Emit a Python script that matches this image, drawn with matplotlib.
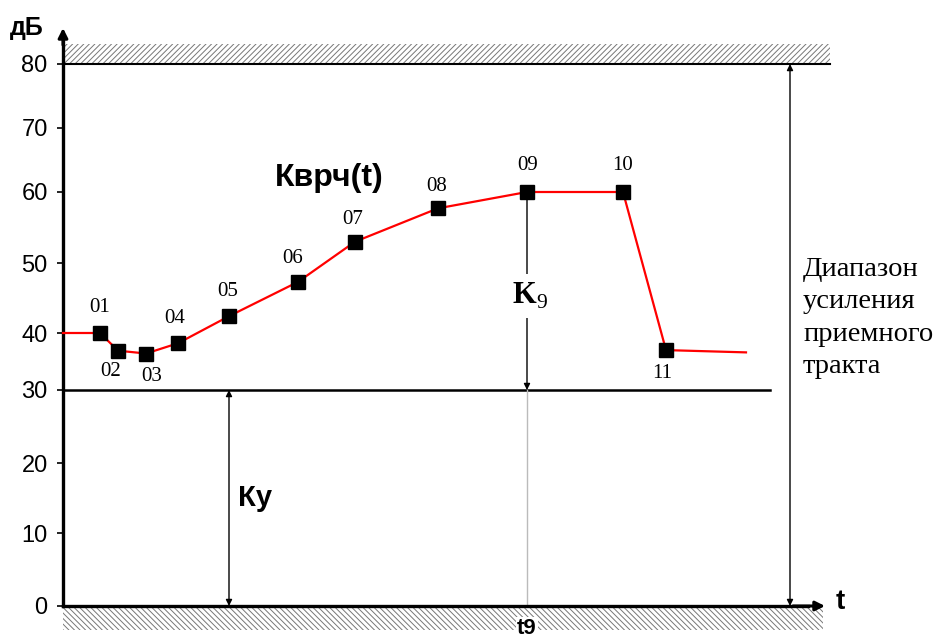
import numpy as np
import matplotlib
matplotlib.use("Agg")
import matplotlib.pyplot as plt
from matplotlib.patches import Rectangle

plt.rcParams["mathtext.fontset"] = "custom"
plt.rcParams["mathtext.rm"] = "Liberation Serif"
plt.rcParams["hatch.linewidth"] = 0.7

# ---- data ----
point_labels = ["01", "02", "03", "04", "05", "06", "07", "08", "09", "10", "11"]
t_points = [3.7, 5.5, 8.3, 11.5, 16.6, 23.5, 29.2, 37.5, 46.4, 56.0, 60.3]
k_points = [40.0, 36.9, 36.4, 38.2, 42.4, 47.3, 53.0, 57.7, 60.0, 60.0, 37.0]
t_start, k_start = 0.0, 40.0
t_end, k_end = 68.3, 36.6
y_ticks = [0, 10, 20, 30, 40, 50, 60, 70, 80]
# vertical pixel position of each tick in the hand-drawn original (non-uniform scale)
tick_px = [606, 533, 463, 390, 333, 263, 192, 128, 64]
K_u = 30
K_max = 80
t9 = 46.4
range_label = "Диапазон\nусиления\nприемного\nтракта"

# label offsets in pixels (dx, dy)
label_offsets = [(0, 25), (-7, -21), (6, -23), (-3, 25), (-1, 25), (-5, 23),
                 (-2, 22), (-1, 22), (1, 26), (0, 27), (-4, -23)]

W, H = 944, 639
fig = plt.figure(figsize=(W / 100, H / 100), dpi=100)
ax = fig.add_axes([0, 0, 1, 1])

vals_ext = np.array([-10] + y_ticks + [90], dtype=float)
px_ext = np.array([676] + tick_px + [0], dtype=float)
up_ext = H - px_ext  # increasing


def fwd(v):
    return np.interp(v, vals_ext, up_ext)


def inv(u):
    return np.interp(u, up_ext, vals_ext)


ax.set_yscale("function", functions=(fwd, inv))
ax.set_xlim(-6.3, 88.1)
ax.set_ylim(inv(0), inv(H))

# spines as axes
for s in ["top", "right"]:
    ax.spines[s].set_visible(False)
ax.spines["left"].set_position(("data", 0))
ax.spines["bottom"].set_position(("data", 0))
ax.spines["left"].set_linewidth(2.4)
ax.spines["bottom"].set_linewidth(2.4)
ax.spines["left"].set_bounds(0, inv(H - 38))
ax.spines["bottom"].set_bounds(0, 74.5)
ax.set_xticks([])
ax.set_yticks(y_ticks)
ax.set_yticklabels([str(v) for v in y_ticks], family="Liberation Sans", fontsize=17)
ax.tick_params(axis="y", length=4, width=1.2, pad=7)
ax.yaxis.set_minor_locator(matplotlib.ticker.NullLocator())

# axis arrows
ax.annotate("", xy=(0, inv(H - 28)), xytext=(0, inv(H - 45)),
            arrowprops=dict(arrowstyle="-|>", lw=2.2, color="black",
                            mutation_scale=14, shrinkA=0, shrinkB=0))
ax.annotate("", xy=(76.2, 0), xytext=(73.0, 0),
            arrowprops=dict(arrowstyle="-|>", lw=2.2, color="black",
                            mutation_scale=14, shrinkA=0, shrinkB=0))

# hatched bands
ax.add_patch(Rectangle((0, K_max), 76.7, inv(H - 44) - K_max, facecolor="none",
                       edgecolor="#777777", hatch="//////", lw=0))
ax.add_patch(Rectangle((0, inv(H - 630)), 76.0, -inv(H - 630), facecolor="none",
                       edgecolor="#777777", hatch="\\\\\\\\\\\\", lw=0))

# horizontal lines
ax.plot([0, 76.7], [K_max, K_max], color="black", lw=1.5)
ax.plot([0, 70.7], [K_u, K_u], color="black", lw=1.8)

# t9 guide
ax.plot([t9, t9], [0, K_u], color="#bbbbbb", lw=1)

# curve
xs = [t_start] + t_points + [t_end]
ys = [k_start] + k_points + [k_end]
ax.plot(xs, ys, color="red", lw=1.6, zorder=3)
ax.plot(t_points, k_points, ls="none", marker="s", color="black", ms=9.5, zorder=4)
for lab, x, y, (dx, dy) in zip(point_labels, t_points, k_points, label_offsets):
    ax.annotate(lab, (x, y), xytext=(dx, dy), textcoords="offset pixels",
                ha="center", va="center", family="Liberation Serif", fontsize=15)

# double arrows
arr = dict(arrowstyle="<|-|>", lw=1, color="black", mutation_scale=9,
           shrinkA=0, shrinkB=0)
ax.annotate("", xy=(16.6, 0), xytext=(16.6, K_u), arrowprops=arr)
ax.annotate("", xy=(t9, K_u), xytext=(t9, 60), arrowprops=arr)
ax.annotate("", xy=(72.7, 0), xytext=(72.7, K_max), arrowprops=arr)

# texts
ax.text(t9 + 0.3, inv(H - 296), r"K$_{9}$", ha="center", va="center",
        family="Liberation Serif", fontsize=22, fontweight="bold",
        bbox=dict(facecolor="white", edgecolor="none", pad=5), zorder=5)
ax.text(17.5, inv(H - 498), "Ку", ha="left", va="center",
        family="Liberation Sans", fontweight="bold", fontsize=21)
ax.text(21.2, inv(H - 178), "Кврч(t)", ha="left", va="center",
        family="Liberation Sans", fontweight="bold", fontsize=23)
ax.text(74.0, inv(H - 318), range_label, ha="left", va="center",
        family="Liberation Serif", fontsize=20.5, linespacing=1.4)
ax.text(-5.3, inv(H - 28), "дБ", ha="left", va="center",
        family="Liberation Sans", fontweight="bold", fontsize=18)
ax.text(77.3, 0.5, "t", ha="left", va="center",
        family="Liberation Sans", fontweight="bold", fontsize=20)
ax.text(t9, inv(H - 628), "t9", ha="center", va="center",
        family="Liberation Sans", fontweight="bold", fontsize=16,
        bbox=dict(facecolor="white", edgecolor="none", pad=0.5))

fig.savefig("out.png", dpi=100)
